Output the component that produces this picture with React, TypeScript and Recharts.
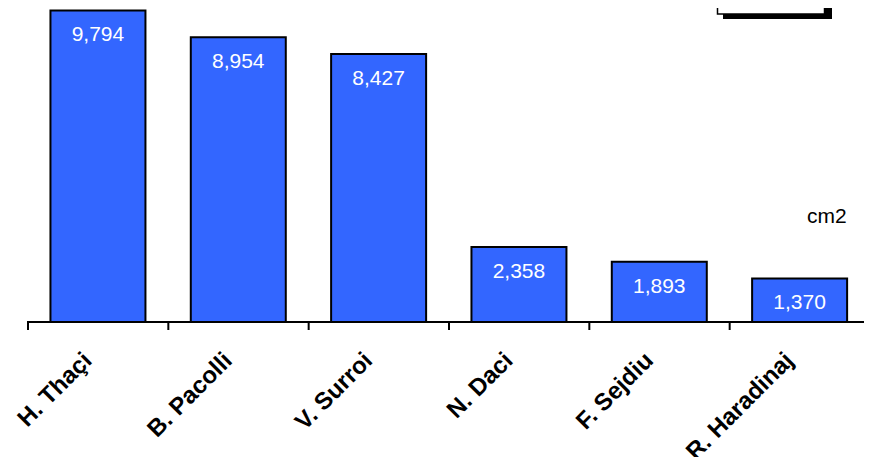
import { Bar, BarChart, LabelList, XAxis, YAxis } from "recharts";

const NAMES = ["H. Thaçi", "B. Pacolli", "V. Surroi", "N. Daci", "F. Sejdiu", "R. Haradinaj"];
const AREAS = [9794, 8954, 8427, 2358, 1893, 1370];
const UNIT = "cm2";

const FONT = "'Liberation Sans', Arial, sans-serif";
const W = 872;
const H = 465;
const MARGIN = { top: 4, right: 2, bottom: 0, left: 28 };
const BAND = (W - MARGIN.left - MARGIN.right) / NAMES.length;

const data = NAMES.map((name, i) => ({ name, value: AREAS[i] }));

// boundary tick on the left of each band (plus the closing one) and a slanted bold label
const NameTick = (props: any) => {
  const { x, y, payload, index } = props;
  const left = x - BAND / 2;
  const lx = x - 5;
  const ly = y + 40;
  return (
    <g>
      <line x1={left} y1={y - 1} x2={left} y2={y + 8} stroke="#000" strokeWidth={2} />
      {index === NAMES.length - 1 && (
        <line x1={left + BAND} y1={y - 1} x2={left + BAND} y2={y + 8} stroke="#000" strokeWidth={2} />
      )}
      <text
        x={lx}
        y={ly}
        textAnchor="end"
        transform={`rotate(-45, ${lx}, ${ly})`}
        fontFamily={FONT}
        fontWeight="bold"
        fontSize={24}
        fill="#000"
      >
        {payload.value}
      </text>
    </g>
  );
};

export default function App() {
  return (
    <div style={{ position: "relative", width: W, height: H, margin: -8 }}>
      <BarChart width={W} height={H} data={data} margin={MARGIN} barCategoryGap="16%">
        <YAxis hide domain={[0, 10000]} />
        <XAxis
          dataKey="name"
          height={143}
          interval={0}
          tickLine={false}
          tickSize={0}
          tickMargin={0}
          axisLine={{ stroke: "#000", strokeWidth: 2 }}
          tick={<NameTick />}
        />
        <Bar dataKey="value" fill="#3366FF" stroke="#000" strokeWidth={2} isAnimationActive={false}>
          <LabelList
            dataKey="value"
            position="insideTop"
            offset={16}
            fill="#fff"
            fontSize={21}
            fontFamily={FONT}
            formatter={(v: any) => Number(v).toLocaleString("en-US")}
          />
        </Bar>
      </BarChart>
      {/* unit note and the framed legend box (with drop shadow) cut off by the top edge */}
      <svg width={W} height={H} style={{ position: "absolute", left: 0, top: 0, pointerEvents: "none" }}>
        <text x={807} y={223} fontFamily={FONT} fontSize={21} fill="#000">
          {UNIT}
        </text>
        <rect x={723} y={-10} width={109} height={29} fill="#000" />
        <rect x={717.5} y={-10} width={107} height={24} fill="#fff" stroke="#000" strokeWidth={1.5} />
        <rect x={749} y={0} width={3} height={2} fill="#000" />
      </svg>
    </div>
  );
}
